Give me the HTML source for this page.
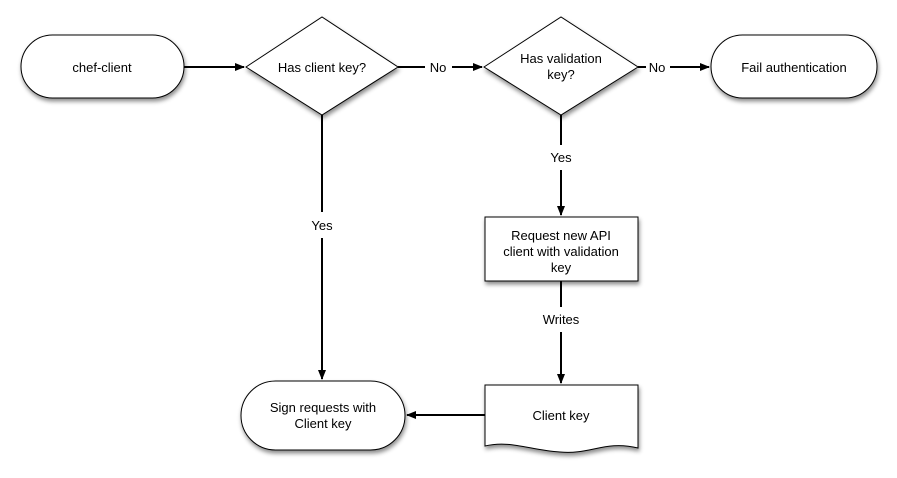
<!DOCTYPE html>
<html><head><style>body{margin:0;background:#fff}svg text{font-family:"Liberation Sans",sans-serif;font-size:13px;fill:#000}</style></head>
<body>
<svg width="897" height="473" viewBox="0 0 897 473" xmlns="http://www.w3.org/2000/svg">
<defs>
<filter id="s" x="-10%" y="-10%" width="130%" height="140%"><feDropShadow dx="1" dy="3" stdDeviation="2" flood-color="#000" flood-opacity="0.45"/></filter>
<marker id="a" markerWidth="10" markerHeight="10" refX="9" refY="5" orient="auto" markerUnits="userSpaceOnUse"><path d="M0,1 L10,5 L0,9 z" fill="#000"/></marker>
</defs>
<g stroke="#000" stroke-width="2" fill="none">
<line x1="184" y1="67" x2="244" y2="67" marker-end="url(#a)"/>
<line x1="398" y1="67" x2="425" y2="67"/><line x1="452" y1="67" x2="482" y2="67" marker-end="url(#a)"/>
<line x1="638" y1="67" x2="646" y2="67"/><line x1="670" y1="67" x2="709" y2="67" marker-end="url(#a)"/>
<line x1="322" y1="115" x2="322" y2="212"/><line x1="322" y1="238" x2="322" y2="379" marker-end="url(#a)"/>
<line x1="561" y1="115" x2="561" y2="145"/><line x1="561" y1="170" x2="561" y2="215" marker-end="url(#a)"/>
<line x1="561" y1="281" x2="561" y2="307"/><line x1="561" y1="332" x2="561" y2="383" marker-end="url(#a)"/>
<line x1="485" y1="415" x2="407" y2="415" marker-end="url(#a)"/>
</g>
<g stroke="#000" stroke-width="1" fill="#fff" filter="url(#s)">
<rect x="21" y="35" width="163" height="63" rx="31.5"/>
<polygon points="246,67 322,17 398,67 322,115"/>
<polygon points="484,67 561,17 638,67 561,115"/>
<rect x="711" y="35" width="166" height="63" rx="31.5"/>
<rect x="485" y="217" width="153" height="64"/>
<path d="M485,385 H638 V448 C605,440 590,455 560,452 C530,450 510,440 485,446 Z"/>
<rect x="241" y="381" width="164" height="69" rx="34.5"/>
</g>
<g text-anchor="middle">
<text x="102" y="72">chef-client</text>
<text x="322" y="72">Has client key?</text>
<text x="438" y="72">No</text>
<text x="561" y="63">Has validation</text><text x="561" y="79">key?</text>
<text x="657" y="72">No</text>
<text x="794" y="72">Fail authentication</text>
<text x="322" y="230">Yes</text>
<text x="561" y="162">Yes</text>
<text x="561" y="240">Request new API</text><text x="561" y="256">client with validation</text><text x="561" y="272">key</text>
<text x="561" y="324">Writes</text>
<text x="561" y="420">Client key</text>
<text x="323" y="412">Sign requests with</text><text x="323" y="428">Client key</text>
</g>
</svg>
</body></html>
